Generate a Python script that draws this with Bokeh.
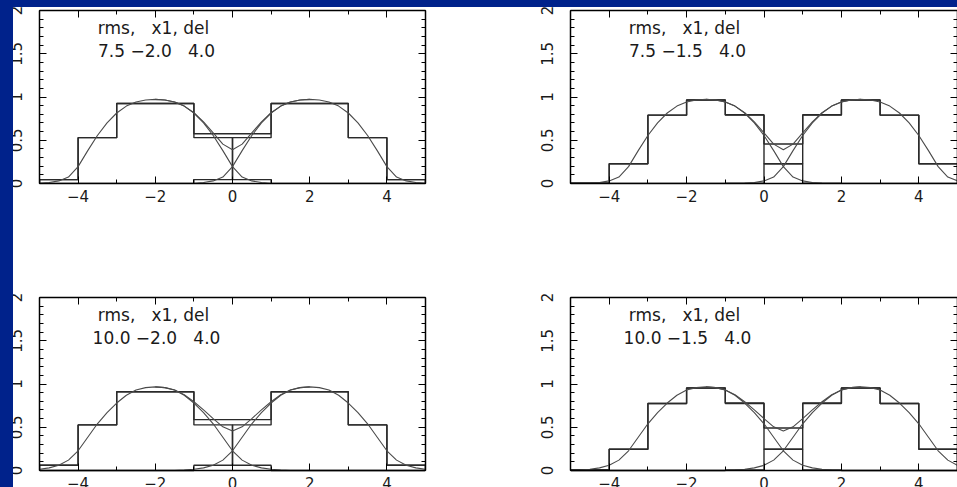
import numpy as np
from bokeh.plotting import figure
from bokeh.models import (Range1d, LinearAxis, SingleIntervalTicker, Label,
                          GlobalInlineStyleSheet)
from bokeh.layouts import row, column
from bokeh.embed import file_html
from bokeh.resources import INLINE

# ---------------------------------------------------------------- data
# histogram bin edges shared by every panel
bin_edges = [-5, -4, -3, -2, -1, 0, 1, 2, 3, 4, 5]

# line profile: height as a function of distance from its centre
profile_dist = [0.0, 0.25, 0.5, 0.75, 1.0, 1.25, 1.5, 1.75, 2.0, 2.25, 2.5, 2.75, 3.0, 3.25, 3.5]
profile_rms75 = [0.972, 0.965, 0.943, 0.895, 0.815, 0.70, 0.555, 0.38, 0.195, 0.075, 0.03, 0.012, 0.003, 0.0, 0.0]
profile_rms10 = [0.967, 0.958, 0.93, 0.87, 0.78, 0.67, 0.54, 0.385, 0.228, 0.12, 0.06, 0.03, 0.015, 0.006, 0.0]

# panel parameters (row by row)
panel_rms = [7.5, 7.5, 10.0, 10.0]
panel_x1 = [-2.0, -1.5, -2.0, -1.5]
panel_del = [4.0, 4.0, 4.0, 4.0]
panel_header = "rms,   x1, del"
panel_values = ["7.5 \u22122.0   4.0", "7.5 \u22121.5   4.0",
                "10.0 \u22122.0   4.0", "10.0 \u22121.5   4.0"]

# binned contents of the two profiles in each panel
hist_first = [
    [0.045, 0.53, 0.925, 0.925, 0.53, 0.045, 0.0, 0.0, 0.0, 0.0],
    [0.004, 0.228, 0.79, 0.965, 0.79, 0.228, 0.004, 0.0, 0.0, 0.0],
    [0.061, 0.527, 0.91, 0.91, 0.527, 0.061, 0.0, 0.0, 0.0, 0.0],
    [0.006, 0.246, 0.775, 0.953, 0.775, 0.246, 0.006, 0.0, 0.0, 0.0],
]
hist_second = [
    [0.0, 0.0, 0.0, 0.0, 0.045, 0.53, 0.925, 0.925, 0.53, 0.045],
    [0.0, 0.0, 0.0, 0.0, 0.004, 0.228, 0.79, 0.965, 0.79, 0.228],
    [0.0, 0.0, 0.0, 0.0, 0.061, 0.527, 0.91, 0.91, 0.527, 0.061],
    [0.0, 0.0, 0.0, 0.0, 0.006, 0.246, 0.775, 0.953, 0.775, 0.246],
]

# ---------------------------------------------------------------- style
BLUE = "#00228b"
FONT = "DejaVu Sans"
HIST_COLOR = "#2a2a2a"
CURVE_COLOR = "#4a4a4a"
TEXT_COLOR = "#1a1a1a"
FRAME_PX = 173          # frame height in pixels for the 0..2 range
NBSP = "\u00a0"


def profile_at(dist, prof):
    return np.interp(dist, profile_dist, prof, right=0.0)


def step_outline(values):
    xs = np.repeat(bin_edges, 2)
    ys = np.concatenate([[0.0], np.repeat(values, 2), [0.0]])
    return xs, ys


def style_axis(ax, major_interval, minor_count, labelled):
    ax.ticker = SingleIntervalTicker(interval=major_interval, num_minor_ticks=minor_count)
    ax.major_tick_in = 7
    ax.major_tick_out = 0
    ax.minor_tick_in = 4
    ax.minor_tick_out = 0
    ax.major_tick_line_color = "black"
    ax.minor_tick_line_color = "black"
    ax.major_tick_line_width = 1
    ax.minor_tick_line_width = 1
    ax.axis_line_color = "black"
    ax.axis_line_width = 1.5
    if labelled:
        ax.major_label_text_font = FONT
        ax.major_label_text_font_size = "15px"
        ax.major_label_text_color = TEXT_COLOR
    else:
        ax.major_label_text_color = None
        ax.major_label_standoff = 0


def make_panel(i, width, height, b_left, b_right, b_top, b_bottom, bottom_pad):
    y_start = -2.0 * bottom_pad / FRAME_PX
    p = figure(width=width, height=height,
               x_range=Range1d(-5, 5), y_range=Range1d(y_start, 2),
               output_backend="svg", toolbar_location=None,
               x_axis_location=None, y_axis_location=None,
               min_border_left=b_left, min_border_right=b_right,
               min_border_top=b_top, min_border_bottom=b_bottom,
               background_fill_color="white", border_fill_color="white",
               outline_line_color=None)
    p.xgrid.visible = False
    p.ygrid.visible = False

    bottom_axis = LinearAxis(fixed_location=0) if bottom_pad > 0 else LinearAxis()
    style_axis(bottom_axis, 2, 2, True)
    bottom_axis.major_label_standoff = 6
    p.add_layout(bottom_axis, "below")

    top_axis = LinearAxis()
    style_axis(top_axis, 2, 2, False)
    p.add_layout(top_axis, "above")

    left_axis = LinearAxis(bounds=(0, 2))
    style_axis(left_axis, 0.5, 5, True)
    left_axis.major_label_orientation = "vertical"
    left_axis.major_label_standoff = 18
    p.add_layout(left_axis, "left")

    right_axis = LinearAxis(bounds=(0, 2))
    style_axis(right_axis, 0.5, 5, False)
    p.add_layout(right_axis, "right")

    prof = profile_rms75 if panel_rms[i] == 7.5 else profile_rms10
    c1 = panel_x1[i]
    c2 = panel_x1[i] + panel_del[i]

    # histograms of the two profiles and of their sum
    h1 = np.array(hist_first[i])
    h2 = np.array(hist_second[i])
    for h in (h1, h2, h1 + h2):
        xs, ys = step_outline(h)
        p.line(xs, ys, line_color=HIST_COLOR, line_width=1.4)

    # the two profiles, and their sum between the centres
    cx = np.arange(-5.0, 5.0 + 1e-9, 0.25)
    f1 = profile_at(np.abs(cx - c1), prof)
    f2 = profile_at(np.abs(cx - c2), prof)
    p.line(cx, f1, line_color=CURVE_COLOR, line_width=1.1)
    p.line(cx, f2, line_color=CURVE_COLOR, line_width=1.1)
    mid = (cx >= c1) & (cx <= c2)
    p.line(cx[mid], (f1 + f2)[mid], line_color=CURVE_COLOR, line_width=1.1)

    # parameter annotation
    p.add_layout(Label(x=-5, y=2, x_offset=114, y_offset=-17.5,
                       text=panel_header.replace(" ", NBSP),
                       text_align="center", text_baseline="alphabetic",
                       text_font=FONT, text_font_size="17px", text_color=TEXT_COLOR))
    p.add_layout(Label(x=-5, y=2, x_offset=117, y_offset=-40,
                       text=panel_values[i].replace(" ", NBSP),
                       text_align="center", text_baseline="alphabetic",
                       text_font=FONT, text_font_size="17px", text_color=TEXT_COLOR))
    return p


p1 = make_panel(0, 478, 247, 39, 53, 10, 64, 0)
p2 = make_panel(1, 479, 247, 92, 0, 10, 64, 0)
p3 = make_panel(2, 478, 240, 39, 53, 50, 0, 17)
p4 = make_panel(3, 479, 240, 92, 0, 50, 0, 17)

page = column(row(p1, p2), row(p3, p4))

# navy slide border along the left and top edges of the page
page.stylesheets = [GlobalInlineStyleSheet(css=f"""
body::before {{ content: ""; position: fixed; left: 0; top: 0; width: 13px;
               height: 100%; background: {BLUE}; z-index: 1000; }}
body::after {{ content: ""; position: fixed; left: 0; top: 0; width: 100%;
              height: 7px; background: {BLUE}; z-index: 1000; }}
""")]

open("out.html", "w").write(file_html(page, INLINE))
